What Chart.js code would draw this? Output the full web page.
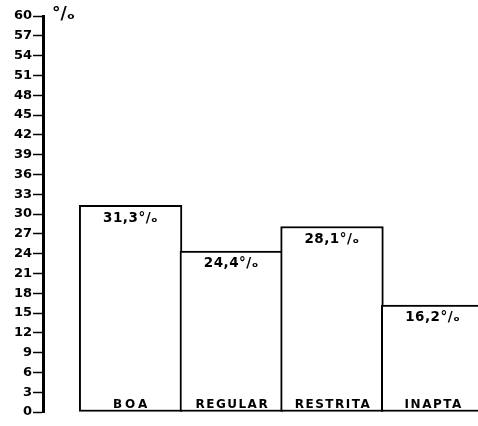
<!DOCTYPE html>
<html>
<head>
<meta charset="utf-8">
<script src="https://cdn.jsdelivr.net/npm/chart.js@4/dist/chart.umd.min.js"></script>
<style>
html,body{margin:0;padding:0;background:#fff;}
#c{display:block;}
</style>
</head>
<body>
<canvas id="c" width="478" height="426"></canvas>
<script>
const categories = ['BOA', 'REGULAR', 'RESTRITA', 'INAPTA'];
const values = [31.3, 24.4, 28.1, 16.2];
const valueLabels = ['31,3°/\u2092', '24,4°/\u2092', '28,1°/\u2092', '16,2°/\u2092'];
const yTicks = [0,3,6,9,12,15,18,21,24,27,30,33,36,39,42,45,48,51,54,57,60];
const unitLabel = '°/\u2092';

const positions = categories.map((c, i) => i);
const FONT = '"DejaVu Sans", sans-serif';

const labelPlugin = {
  id: 'labels',
  afterDatasetsDraw(chart) {
    const ctx = chart.ctx;
    const meta = chart.getDatasetMeta(0);
    ctx.save();
    ctx.fillStyle = '#000';
    ctx.textAlign = 'center';
    meta.data.forEach((bar, i) => {
      ctx.font = 'bold 13.5px ' + FONT;
      ctx.textBaseline = 'top';
      try { ctx.letterSpacing = '0.5px'; } catch (e) {}
      ctx.fillText(valueLabels[i], bar.x, bar.y + 6);
      ctx.font = 'bold 12px ' + FONT;
      ctx.textBaseline = 'alphabetic';
      try { ctx.letterSpacing = (categories[i].length <= 3 ? '3px' : '1.5px'); } catch (e) {}
      ctx.fillText(categories[i], bar.x + 1, bar.base - 4);
      try { ctx.letterSpacing = '0px'; } catch (e) {}
    });
    const y = chart.scales.y;
    ctx.font = 'bold 17px ' + FONT;
    ctx.textAlign = 'left';
    ctx.textBaseline = 'middle';
    ctx.fillText(unitLabel, chart.chartArea.left + 9, y.getPixelForValue(60) - 1);
    ctx.restore();
  }
};

new Chart(document.getElementById('c'), {
  type: 'bar',
  data: {
    datasets: [{
      data: positions.map((p, i) => ({ x: p, y: values[i] })),
      backgroundColor: '#fff',
      borderColor: '#000',
      borderWidth: 2,
      borderSkipped: false,
      barThickness: 'flex',
      categoryPercentage: 1,
      barPercentage: 1.02
    }]
  },
  options: {
    responsive: false,
    animation: false,
    events: [],
    layout: { padding: { top: 16, bottom: 14, left: 0, right: 0 } },
    plugins: { legend: { display: false }, tooltip: { enabled: false } },
    scales: {
      x: {
        type: 'linear',
        offset: false,
        min: -0.87,
        max: 3.45,
        display: false
      },
      y: {
        min: 0,
        max: 60,
        afterBuildTicks(scale) { scale.ticks = yTicks.map(v => ({ value: v })); },
        afterFit(scale) { scale.width = 43; },
        border: { display: true, color: '#000', width: 3 },
        grid: { drawOnChartArea: false, drawTicks: true, tickLength: 10, color: '#000', tickWidth: 1.5 },
        ticks: {
          color: '#000',
          padding: 1,
          font: { family: FONT, weight: 'bold', size: 13 },
          callback: v => String(v)
        }
      }
    }
  },
  plugins: [labelPlugin]
});
</script>
</body>
</html>
